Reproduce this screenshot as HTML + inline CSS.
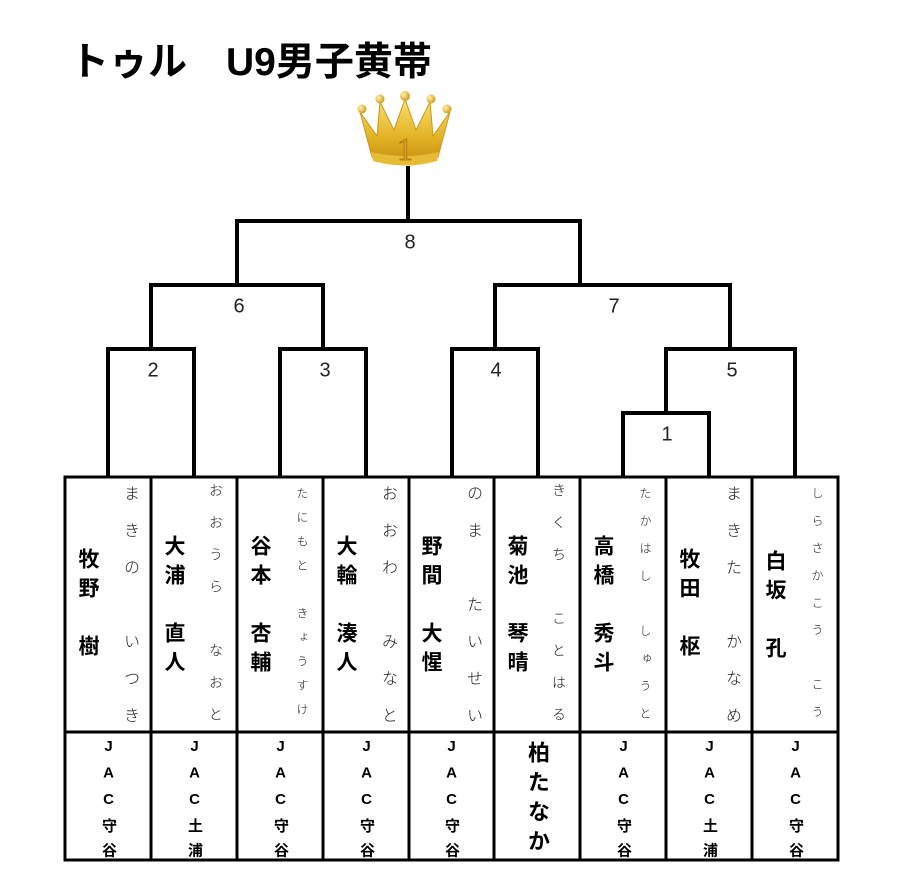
<!DOCTYPE html>
<html><head><meta charset="utf-8">
<style>
body{margin:0;width:917px;height:892px;background:#fff;position:relative;overflow:hidden;font-family:"Liberation Sans","Noto Sans CJK JP",sans-serif;}
.t{position:absolute;left:70px;top:38px;font-size:39px;font-weight:bold;white-space:nowrap;line-height:50px;}
.v{position:absolute;writing-mode:vertical-rl;text-orientation:upright;white-space:nowrap;}
.n{font-weight:bold;color:#000;}
.f{color:#222;font-weight:300;}
.lab{position:absolute;font-size:20px;color:#222;transform:translate(-50%,-50%);font-family:"Liberation Sans","Noto Sans CJK JP",sans-serif;}
</style></head><body>
<div class="t">トゥル　U9男子黄帯</div>
<svg width="917" height="892" style="position:absolute;left:0;top:0">
<defs>
<linearGradient id="g" x1="0" y1="0" x2="0" y2="1"><stop offset="0" stop-color="#f8e070"/><stop offset="0.6" stop-color="#e3b325"/><stop offset="1" stop-color="#c89012"/></linearGradient>
<radialGradient id="b" cx="0.35" cy="0.35" r="0.7"><stop offset="0" stop-color="#fff4b0"/><stop offset="1" stop-color="#d09a10"/></radialGradient>
</defs>
<path d="M360,112 L377,136 L380,102 L394,130 L405,99 L416,130 L430,102 L433,136 L450,112 L438,157 Q405,167 372,157 Z" fill="url(#g)" stroke="#c9961a" stroke-width="1"/>
<path d="M371,152 Q405,160 439,152 L437,161 Q405,170 373,161 Z" fill="#e8bb35"/>
<circle cx="362" cy="109" r="4.5" fill="url(#b)"/><circle cx="380" cy="99" r="4.5" fill="url(#b)"/><circle cx="405" cy="96" r="5" fill="url(#b)"/><circle cx="431" cy="99" r="4.5" fill="url(#b)"/><circle cx="447" cy="109" r="4.5" fill="url(#b)"/>
<text x="405" y="160" font-size="32" text-anchor="middle" fill="#d9a521" stroke="#a87508" stroke-width="0.8" font-family="Liberation Serif,serif">1</text>
<g fill="none" stroke="#000" stroke-width="4">
<path d="M108,477V349H194V477"/><path d="M280,477V349H366V477"/><path d="M452,477V349H538V477"/>
<path d="M623,477V413H709V477"/><path d="M666,413V349H795V477"/>
<path d="M151,349V285H323V349"/><path d="M495,349V285H730V349"/>
<path d="M237,285V221H580V285"/><path d="M408,221V166"/>
</g>
<g stroke="#000" stroke-width="3" fill="none">
<rect x="65" y="477" width="773" height="383"/>
<path d="M65,732H838M151,477V860M237,477V860M323,477V860M409,477V860M494,477V860M580,477V860M666,477V860M752,477V860"/>
</g>
</svg>
<div class="lab" style="left:410px;top:243px">8</div>
<div class="lab" style="left:239px;top:307px">6</div>
<div class="lab" style="left:614px;top:307px">7</div>
<div class="lab" style="left:153px;top:371px">2</div>
<div class="lab" style="left:325px;top:371px">3</div>
<div class="lab" style="left:496px;top:371px">4</div>
<div class="lab" style="left:732px;top:371px">5</div>
<div class="lab" style="left:667px;top:435px">1</div>

<div class="v n" style="left:77px;top:548px;font-size:21px;line-height:21px;letter-spacing:8px">牧野　樹</div>
<div class="v n" style="left:163px;top:535px;font-size:21px;line-height:21px;letter-spacing:8px">大浦　直人</div>
<div class="v n" style="left:249px;top:535px;font-size:21px;line-height:21px;letter-spacing:8px">谷本　杏輔</div>
<div class="v n" style="left:335px;top:535px;font-size:21px;line-height:21px;letter-spacing:8px">大輪　湊人</div>
<div class="v n" style="left:420px;top:535px;font-size:21px;line-height:21px;letter-spacing:8px">野間　大惺</div>
<div class="v n" style="left:506px;top:535px;font-size:21px;line-height:21px;letter-spacing:8px">菊池　琴晴</div>
<div class="v n" style="left:592px;top:535px;font-size:21px;line-height:21px;letter-spacing:8px">高橋　秀斗</div>
<div class="v n" style="left:678px;top:548px;font-size:21px;line-height:21px;letter-spacing:8px">牧田　枢</div>
<div class="v n" style="left:764px;top:550px;font-size:21px;line-height:21px;letter-spacing:8px">白坂　孔</div>

<div class="v f" style="left:121px;top:485px;font-size:16px;line-height:16px;letter-spacing:21px">まきの　いつき</div>
<div class="v f" style="left:209px;top:483px;font-size:14px;line-height:14px;letter-spacing:18px">おおうら　なおと</div>
<div class="v f" style="left:296px;top:487px;font-size:12px;line-height:12px;letter-spacing:12px">たにもと　きょうすけ</div>
<div class="v f" style="left:379px;top:485px;font-size:16px;line-height:16px;letter-spacing:21px">おおわ　みなと</div>
<div class="v f" style="left:464px;top:485px;font-size:16px;line-height:16px;letter-spacing:21px">のま　たいせい</div>
<div class="v f" style="left:552px;top:483px;font-size:14px;line-height:14px;letter-spacing:18px">きくち　ことはる</div>
<div class="v f" style="left:639px;top:487px;font-size:12px;line-height:12px;letter-spacing:15.5px">たかはし　しゅうと</div>
<div class="v f" style="left:723px;top:485px;font-size:16px;line-height:16px;letter-spacing:21px">まきた　かなめ</div>
<div class="v f" style="left:811px;top:487px;font-size:12px;line-height:12px;letter-spacing:15.3px">しらさかこう　こう</div>

<div class="v n" style="left:101px;top:738px;font-size:15px;line-height:15px;letter-spacing:9.6px">JAC守谷</div>
<div class="v n" style="left:187px;top:738px;font-size:15px;line-height:15px;letter-spacing:9.6px">JAC土浦</div>
<div class="v n" style="left:273px;top:738px;font-size:15px;line-height:15px;letter-spacing:9.6px">JAC守谷</div>
<div class="v n" style="left:359px;top:738px;font-size:15px;line-height:15px;letter-spacing:9.6px">JAC守谷</div>
<div class="v n" style="left:444px;top:738px;font-size:15px;line-height:15px;letter-spacing:9.6px">JAC守谷</div>
<div class="v n" style="left:526px;top:741px;font-size:22px;line-height:22px;letter-spacing:7.5px">柏たなか</div>
<div class="v n" style="left:616px;top:738px;font-size:15px;line-height:15px;letter-spacing:9.6px">JAC守谷</div>
<div class="v n" style="left:702px;top:738px;font-size:15px;line-height:15px;letter-spacing:9.6px">JAC土浦</div>
<div class="v n" style="left:788px;top:738px;font-size:15px;line-height:15px;letter-spacing:9.6px">JAC守谷</div>
</body></html>
